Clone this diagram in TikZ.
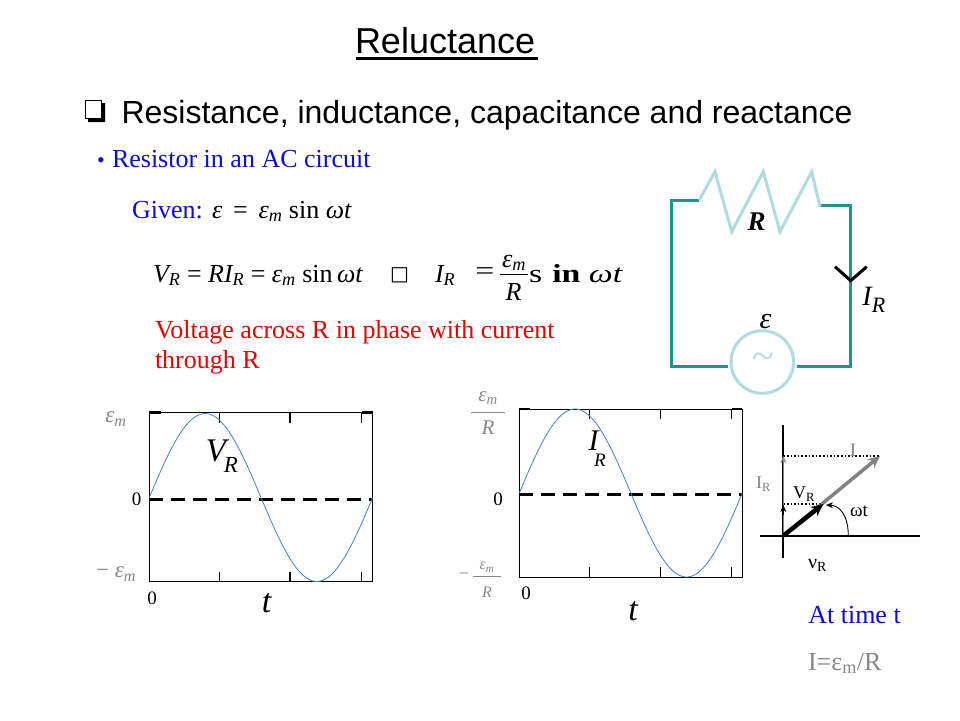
\documentclass[tikz,border=0pt]{standalone}
\usepackage{fontspec}
\usepackage{graphicx}
\setmainfont{Liberation Serif}
\newfontfamily\arialf{Liberation Sans}
\newfontfamily\djvf{DejaVu Sans}
\usetikzlibrary{arrows.meta}
\newcommand\fsz[1]{\fontsize{#1}{#1}\selectfont}
\definecolor{wire}{RGB}{25,150,145}
\definecolor{lightc}{RGB}{175,220,225}
\definecolor{sinec}{RGB}{60,130,210}
\definecolor{lblgray}{RGB}{135,135,135}
\definecolor{phgray}{RGB}{130,130,130}
\definecolor{txtblue}{RGB}{10,10,225}
\definecolor{txtred}{RGB}{230,0,0}
\begin{document}
\begin{tikzpicture}[x=1pt,y=-1pt,
  every node/.style={inner sep=0pt, outer sep=0pt},
  wirel/.style={wire, line width=3pt},
  lightl/.style={lightc, line width=3pt},
  frame/.style={black, line width=0.9pt},
  tickl/.style={black, line width=1.2pt},
  zerol/.style={black, line width=3pt, dash pattern=on 14pt off 8pt},
  sinel/.style={sinec, line width=0.8pt},
  lbl/.style={text=lblgray},
  eq/.style={font=\fsz{26}, anchor=base west},
  rednote/.style={font=\fsz{26}, text=txtred, anchor=base west}]
\fill[white] (0,0) rectangle (960,720);
\useasboundingbox (0,0) rectangle (960,720);

% ---- title
\node[font=\arialf\fsz{36}, anchor=base west] (title) at (355,53) {Reluctance};
\draw[line width=2.5pt] (356,58.5) -- (538,58.5);

% ---- shadowed box bullet
\fill[black] (102,103) -- (105,103) -- (105,122) -- (88,122) -- (88,119) -- (102,119) -- cycle;
\draw[line width=1.5pt, fill=white] (85.5,100.5) rectangle (101.5,118.5);
\node[font=\arialf\fsz{32}, anchor=base west] (head) at (121.5,123) {Resistance, inductance, capacitance and reactance};

% ---- blue bullet line
\node[font=\fsz{22}, text=txtblue, anchor=base west] (dot) at (97,167) {•};
\node[font=\fsz{26}, text=txtblue, anchor=base west] (sub) at (112,167) {Resistor in an AC circuit};

% ---- given
\node[font=\fsz{26}, text=txtblue, anchor=base west] (given) at (132,218) {Given:};
\node[eq] (eq1) at (212,218) {\itshape ε\upshape{} \,=\, \itshape ε\textsubscript{m}\upshape{} sin \itshape ωt};

% ---- equation line
\node[eq] (eq2) at (153,282) {\itshape V\textsubscript{R}\upshape{} = \itshape RI\textsubscript{R}\upshape{} = \itshape ε\textsubscript{m}\upshape{} sin\,\itshape ωt};
\node[font=\djvf\fsz{20}] (impl) at (399.5,275) {□};
\node[eq] (eq3) at (435,282) {\itshape I\textsubscript{R}};
\node[font=\fsz{26}] (eq3eq) at (485,274) {\scalebox{1.3}[1]{=}};
\node[font=\itshape\fsz{26}] (fnum) at (514,263) {ε\textsubscript{m}};
\draw[line width=1pt] (500,274.5) -- (528,274.5);
\node[font=\itshape\fsz{26}] (fden) at (513.5,291.5) {R};
\node[font=\fsz{26}, anchor=base west] (sinwt) at (529,282) {\scalebox{1.3}[1]{s\hspace{0.3em}\textbf{in}\hspace{0.25em}\itshape ωt}};

% ---- red text
\node[rednote] (note1) at (155,338) {Voltage across R in phase with current};
\node[rednote] (note2) at (155,368) {through R};

% ---- circuit
\draw[wirel] (699.3,200) -- (671.7,200) -- (671.7,366.7) -- (728.3,366.7);
\draw[wirel] (796.7,366.7) -- (850.7,366.7) -- (850.7,205) -- (820,205);
\draw[lightl, line join=miter] (699.3,200) -- (715,171.7) -- (731.7,231.7) -- (763.3,171.7) -- (780,231.7) -- (811.7,171.7) -- (820,206.7);
\node[draw=lightc, line width=3pt, circle, minimum size=62.6pt] (src) at (762.3,362) {};
\node[font=\fsz{40}, text=lightc] (tilde) at (763,361) {\~{}};
\draw[black, line width=3pt] (835,266.7) -- (850.7,280.7) -- (866.7,266.7);
\node[font=\bfseries\itshape\fsz{27}] (Rlab) at (756.5,221.5) {R};
\node[font=\itshape\fsz{30}] (elab) at (765.5,322) {ε};
\node[font=\itshape\fsz{28}] (Ilab) at (867,296) {I};
\node[font=\itshape\fsz{22}] (IRsub) at (878.5,305) {R};

% ---- graph 1
\draw[frame] (149.3,412.7) rectangle (372.7,581.7);
\draw[black, line width=2.5pt] (149.3,412.7) -- (161,412.7) (361.7,412.7) -- (372.7,412.7);
\foreach \xx in {219.3,290,361.7} {
  \draw[tickl] (\xx,412.7) -- (\xx,422.7);
  \draw[tickl] (\xx,581.7) -- (\xx,571.7);
}
\draw[zerol] (149.3,499) -- (372.7,499);
\draw[sinel] plot[domain=0:360, samples=91, smooth] ({149.3+\x/360*223.4},{497.5-84*sin(\x)});
\node[lbl, font=\itshape\fsz{23}] (g1top) at (116,419) {ε\textsubscript{m}};
\node[font=\fsz{19}] (g1zero) at (136.5,499) {0};
\node[lbl, font=\fsz{23}] (g1bot) at (116,574) {− \itshape ε\textsubscript{m}};
\node[font=\fsz{19}] (g1zb) at (152,598) {0};
\node[font=\itshape\fsz{34}] (g1t) at (266.5,603) {t};
\node[font=\itshape\fsz{33}] (g1V) at (216,451) {V};
\node[font=\itshape\fsz{23}] (g1R) at (231,465) {R};

% ---- graph 2
\draw[frame] (519.3,409) rectangle (742.3,577.3);
\draw[black, line width=2.5pt] (519.3,409) -- (530,409) (731.7,409) -- (742.3,409);
\foreach \xx in {589.3,660.7,731.7} {
  \draw[tickl] (\xx,409) -- (\xx,419);
  \draw[tickl] (\xx,577.3) -- (\xx,567.3);
}
\draw[zerol] (519.3,494.3) -- (742.3,494.3);
\draw[sinel] plot[domain=0:360, samples=91, smooth] ({519.3+\x/360*223},{493-84*sin(\x)});
\node[lbl, font=\itshape\fsz{21}] (g2n) at (488,398) {ε\textsubscript{m}};
\draw[lblgray, line width=0.8pt] (471,412.5) -- (505,412.5);
\node[lbl, font=\itshape\fsz{21}] (g2d) at (488,428) {R};
\node[font=\fsz{19}] (g2zero) at (498,499) {0};
\node[lbl, font=\fsz{18}] (g2m) at (464,576) {−};
\node[lbl, font=\itshape\fsz{16}] (g2bn) at (487,567) {ε\textsubscript{m}};
\draw[lblgray, line width=0.7pt] (473,576.5) -- (501,576.5);
\node[lbl, font=\itshape\fsz{16}] (g2bd) at (487,592) {R};
\node[font=\fsz{19}] (g2zb) at (526,593) {0};
\node[font=\itshape\fsz{34}] (g2t) at (633,611) {t};
\node[font=\itshape\fsz{30}] (g2I) at (593.5,441) {I};
\node[font=\itshape\fsz{19}] (g2R) at (600,460) {R};

% ---- phasor diagram
\coordinate (O) at (783.3,535.7);
\coordinate (ytop) at (783.3,425);
\coordinate (ybot) at (783.3,558.3);
\coordinate (xl) at (760,535.7);
\coordinate (xr) at (920,535.7);
\coordinate (Itip) at (880,456);
\coordinate (Vtip) at (823.3,504);
\coordinate (IRtip) at (783.3,456);
\coordinate (VRproj) at (783.3,504);
\draw[line width=2pt] (ytop) -- (ybot);
\draw[line width=2pt] (xl) -- (xr);
\draw[dotted, line width=1.6pt] (IRtip) -- (Itip);
\draw[dotted, line width=1.6pt] (VRproj) -- (Vtip);
\draw[phgray, line width=1.5pt, -{Stealth[length=7pt,width=6pt]}] (O) -- (IRtip);
\draw[black, line width=1pt, -{Stealth[length=7pt,width=6pt]}] (783.3,515) -- (783.3,505);
\draw[phgray, line width=3.5pt, -{Stealth[length=12pt,width=11pt]}] (O) -- (Itip);
\draw[black, line width=4.5pt, -{Stealth[length=12pt,width=11pt]}] (O) -- (Vtip);
\draw[black, line width=0.9pt, -{Stealth[length=7pt,width=6pt]}] (848.3,535.7) .. controls (848.3,516) and (840,505.5) .. (826,505);
\node[text=phgray, font=\fsz{19}] (Ilb) at (853,450) {I};
\node[text=phgray, font=\fsz{18}, anchor=base west] (IRlb) at (756,488.5) {I\textsubscript{R}};
\node[font=\fsz{18}, anchor=base west] (VRlb) at (793,498.5) {V\textsubscript{R}};
\node[font=\fsz{19}, anchor=base west] (wt) at (850,516) {ωt};
\node[font=\fsz{20}, anchor=base west] (nu) at (808,568) {ν\textsubscript{R}};

% ---- bottom right text
\node[font=\fsz{26}, text=txtblue, anchor=base west] (attime) at (808.3,623.3) {At time t};
\node[font=\fsz{26}, text=lblgray, anchor=base west] (Ieq) at (808,670) {I=ε\textsubscript{m}/R};
\end{tikzpicture}
\end{document}
